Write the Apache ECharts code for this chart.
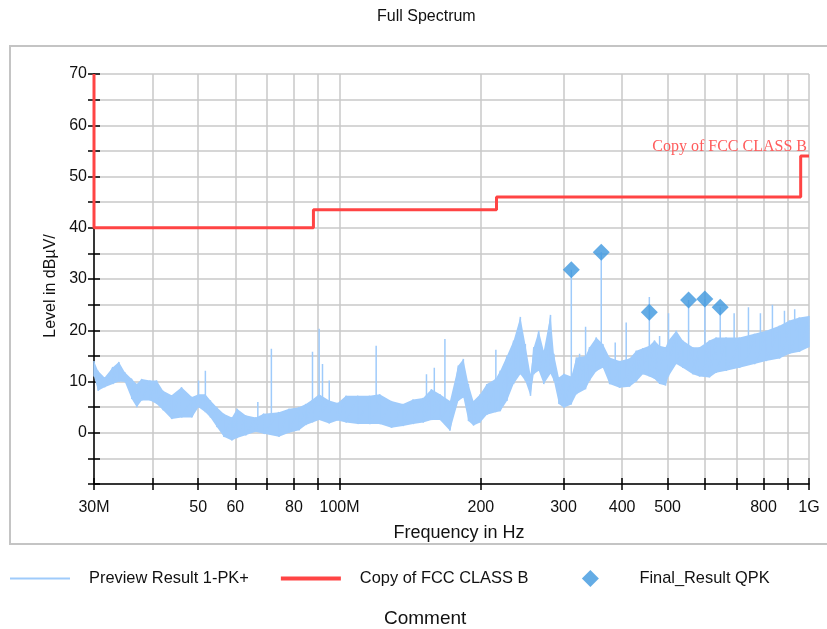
<!DOCTYPE html>
<html>
<head>
<meta charset="utf-8">
<script src="https://cdn.jsdelivr.net/npm/echarts@6/dist/echarts.min.js"></script>
<style>html,body{margin:0;padding:0;background:#fff}#main{width:827px;height:629px}</style>
</head>
<body>
<div id="main"></div>
<script>
// 频谱包络 (MHz / dBµV)
var freqMHz = [30, 30.6, 31.6, 32.9, 33.9, 34.9, 36.1, 37, 37.9, 39.5, 40.8, 42.1, 43.9, 46.1, 48.5, 50.1, 51.8, 53.1, 54.8, 56.7,
  59, 60.5, 63.1, 66.3, 69, 74.3, 78.1, 82, 84.8, 87.6, 90.5, 95.1, 99.1, 103.3, 109.4, 115.9, 121.8, 129, 136.5, 143.5,
  150.7, 157, 163.7, 171.9, 179.1, 183.6, 188.2, 192.9, 199.3, 206, 215, 220, 227.3, 234.9, 242.8, 248.8, 255.1, 259.3, 265.7, 272.3,
  281.5, 286.2, 293.3, 300.6, 311.7, 319.6, 334.3, 340.9, 352.3, 363.9, 376, 394.9, 414.7, 428.7, 442.8, 457, 468.9, 480.6, 494.8, 502.1,
  521.7, 538.5, 565.7, 584.5, 613.8, 634.2, 666.1, 711.1, 765.1, 810.3, 865.1, 908.6, 954.1, 1000]
var peakHi = [14.0, 12.1, 10.8, 12.8, 13.8, 11.8, 10.5, 9.5, 10.5, 10.2, 10.2, 8.2, 7.3, 8.9, 7.0, 7.5, 7.5, 6.3, 5.0, 3.7,
  3.0, 4.7, 3.4, 3.0, 3.7, 4.0, 4.7, 5.0, 5.6, 6.5, 7.5, 6.3, 5.8, 7.2, 7.2, 7.2, 7.5, 6.2, 5.6, 6.5,
  6.8, 8.5, 7.5, 6.2, 13.1, 14.4, 9.5, 6.2, 7.5, 9.5, 10.5, 12.1, 15.0, 18.0, 22.6, 17.3, 11.4, 16.7, 19.9, 16.0,
  23.0, 15.4, 10.8, 11.5, 11.0, 14.7, 15.0, 16.7, 18.6, 17.3, 14.7, 14.0, 14.5, 16.0, 16.5, 17.0, 18.0, 17.0, 16.7, 18.0,
  19.9, 18.0, 16.7, 16.7, 18.0, 18.6, 18.6, 18.6, 19.3, 19.9, 20.9, 21.9, 22.5, 22.8]
var peakLo = [11.0, 8.2, 8.9, 9.5, 10.0, 9.9, 6.6, 5.0, 6.3, 6.3, 5.6, 4.4, 2.7, 3.0, 3.0, 5.0, 4.0, 3.0, 1.1, -0.8,
  -1.5, -1.0, -0.5, 0.2, -0.2, -0.8, 0.0, 0.5, 1.5, 2.0, 2.5, 1.8, 2.4, 2.0, 1.7, 1.7, 1.7, 1.0, 1.3, 1.7,
  2.0, 2.5, 2.5, 0.4, 6.2, 6.9, 2.3, 1.4, 2.0, 3.5, 4.0, 4.2, 6.2, 9.5, 11.4, 10.1, 7.2, 11.4, 12.1, 9.5,
  11.5, 10.1, 5.6, 4.9, 5.5, 7.5, 8.5, 10.1, 12.0, 12.7, 9.5, 8.8, 9.0, 10.0, 11.4, 11.0, 10.5, 9.5, 9.2, 11.0,
  13.4, 12.7, 11.4, 11.0, 10.8, 11.7, 12.1, 12.7, 13.4, 14.0, 14.5, 15.4, 15.8, 16.7]

// 窄带尖峰
var spikeMHz = [50.1, 51.8, 67.0, 71.6, 87.6, 90.5, 92.0, 95.1, 119.7, 153.2, 159.2, 167.7, 215.3, 311.7, 324.6, 334.3,
  361.0, 386.6, 408.0, 457.0, 480.6, 502.1, 554.0, 600.0, 647.0, 692.7, 743.1, 788.0, 835.8, 886.6, 932.2]
var spikeTop = [10.2, 12.1, 6.0, 16.4, 15.8, 20.3, 13.4, 10.2, 17.0, 11.4, 12.7, 18.3, 16.2, 31.8, 15.4, 20.7,
  35.2, 17.6, 21.5, 26.5, 18.9, 23.3, 25.9, 26.1, 24.5, 23.3, 24.5, 23.3, 25.0, 23.8, 24.1]
var spikeBase = [5, 5, 2, 2, 4, 4, 4, 4, 4, 4, 4, 4, 7, 7, 10, 11,
  14, 11, 11, 13, 13, 13, 14, 13, 14, 15, 15, 16, 17, 17, 18]

// FCC CLASS B 限值
var limitMHz = [30, 30, 88, 88, 216, 216, 960, 960, 1000]
var limitDb = [70, 40, 40, 43.5, 43.5, 46, 46, 54, 54]

// QPK 终测点
var qpkMHz = [311.7, 361, 457, 554, 600, 647]
var qpkDb = [31.8, 35.2, 23.5, 25.9, 26.1, 24.5]

var xTicks = [30, 40, 50, 60, 70, 80, 90, 100, 200, 300, 400, 500, 600, 700, 800, 900, 1000]
var xLabels = [30, 50, 60, 80, 100, 200, 300, 400, 500, 800, 1000]

var pts = []
freqMHz.forEach(function (f, i) { pts.push([f, peakHi[i], 0]); pts.push([f, peakLo[i], 1]) })
spikeMHz.forEach(function (f, i) {
  pts.push([f, spikeBase[i], 2]); pts.push([f, spikeTop[i], 3]); pts.push([f, spikeBase[i], 4])
})
pts.sort(function (a, b) { return a[0] - b[0] || a[2] - b[2] })
var previewData = pts.map(function (p) { return [p[0], p[1]] })

var font = 'Liberation Sans, Arial, sans-serif'
var gridColor = '#c8c8c8'
var blue = '#9fcbfb'

function xName (v) {
  v = Math.round(v)
  if (v === 30) return '30M'
  if (v === 100) return '100M'
  if (v === 1000) return '1G'
  return String(v)
}

var chart = echarts.init(document.getElementById('main'))
chart.setOption({
  animation: false,
  textStyle: { fontFamily: font },
  title: { text: 'Full Spectrum', left: 372, top: 4, textStyle: { fontSize: 16, fontWeight: 'normal', color: '#111', fontFamily: font } },
  graphic: [
    { type: 'rect', z: -10, shape: { x: 10, y: 46, width: 830, height: 498 }, style: { fill: '#fff', stroke: '#c4c4c4', lineWidth: 2 } },
    { type: 'text', left: 384, top: 609, style: { text: 'Comment', fontSize: 19, fill: '#111', fontFamily: font } }
  ],
  grid: { left: 94, right: 18, top: 74, bottom: 145 },
  legend: {
    data: [
      { name: 'Preview Result 1-PK+', icon: 'path://M0,0H60V2H0Z' },
      { name: 'Copy of FCC CLASS B', icon: 'path://M0,0H60V4H0Z' },
      { name: 'Final_Result QPK', icon: 'path://M0,0L0,0M60,17L60,17M30,0L38.5,8.5L30,17L21.5,8.5Z' }
    ],
    left: 5, top: 565, itemWidth: 60, itemHeight: 17, itemGap: 32, selectedMode: false,
    textStyle: { fontSize: 16.4, color: '#111', fontFamily: font, padding: [0, 0, 0, 14] }
  },
  xAxis: [{
    type: 'log', logBase: 10, min: 30, max: 1000,
    name: 'Frequency in Hz', nameLocation: 'middle', nameGap: 40,
    nameTextStyle: { fontSize: 18, color: '#111', padding: [0, 0, 0, 15] },
    axisLine: { onZero: false, lineStyle: { color: '#000', width: 1.5 } },
    axisTick: { customValues: xTicks, length: 6, lineStyle: { color: '#000', width: 1.5 } },
    axisLabel: { customValues: xLabels, formatter: xName, fontSize: 16, color: '#111', margin: 16 },
    splitLine: { show: true, lineStyle: { color: gridColor, width: 1.5 } }
  }, {
    type: 'log', logBase: 10, min: 30, max: 1000, position: 'bottom',
    axisLine: { show: false, onZero: false },
    axisTick: { customValues: xTicks, inside: true, length: 6, lineStyle: { color: '#000', width: 1.5 } },
    axisLabel: { show: false },
    splitLine: { show: false }
  }],
  yAxis: [{
    type: 'value', min: -10, max: 70, interval: 5,
    name: 'Level in dBµV/', nameLocation: 'middle', nameGap: 32,
    nameTextStyle: { fontSize: 16, color: '#111', padding: [0, 14, 0, 0] },
    axisLine: { show: true, onZero: false, lineStyle: { color: '#000', width: 1.5 } },
    axisTick: { show: true, length: 6, lineStyle: { color: '#000', width: 1.5 } },
    axisLabel: { fontSize: 16, color: '#111', margin: 7, formatter: function (v) { return (v % 10 === 0 && v >= 0) ? String(v) : '' } },
    splitLine: { show: true, lineStyle: { color: gridColor, width: 1.5 } }
  }, {
    type: 'value', min: -10, max: 70, interval: 5, position: 'left',
    axisLine: { show: false, onZero: false },
    axisTick: { show: true, inside: true, length: 6, lineStyle: { color: '#000', width: 1.5 } },
    axisLabel: { show: false },
    splitLine: { show: false }
  }],
  series: [{
    type: 'custom', silent: true, z: 1,
    data: [[freqMHz[0], peakHi[0]]],
    renderItem: function (params, api) {
      var poly = []
      for (var i = 0; i < freqMHz.length; i++) poly.push(api.coord([freqMHz[i], peakHi[i]]))
      for (var j = freqMHz.length - 1; j >= 0; j--) poly.push(api.coord([freqMHz[j], peakLo[j]]))
      return { type: 'polygon', shape: { points: poly }, style: { fill: blue } }
    }
  }, {
    name: 'Preview Result 1-PK+', type: 'line', z: 2,
    data: previewData, symbol: 'none', silent: true,
    lineStyle: { color: blue, width: 1.5 }, itemStyle: { color: blue }
  }, {
    name: 'Copy of FCC CLASS B', type: 'line', z: 3,
    data: limitMHz.map(function (f, i) { return [f, limitDb[i]] }),
    symbol: 'none', silent: true,
    lineStyle: { color: '#ff4444', width: 3 }, itemStyle: { color: '#ff4444' },
    markPoint: {
      symbol: 'rect', symbolSize: 0, silent: true,
      data: [{ coord: [1000, 54] }],
      label: { show: true, formatter: 'Copy of FCC CLASS B', position: 'left', distance: 2, offset: [0, -9],
        color: '#ff5c5c', fontFamily: 'Liberation Serif, serif', fontSize: 16 }
    }
  }, {
    name: 'Final_Result QPK', type: 'scatter', z: 4,
    data: qpkMHz.map(function (f, i) { return [f, qpkDb[i]] }),
    symbol: 'diamond', symbolSize: 17, silent: true,
    itemStyle: { color: '#3d97de' }
  }]
})
</script>
</body>
</html>
